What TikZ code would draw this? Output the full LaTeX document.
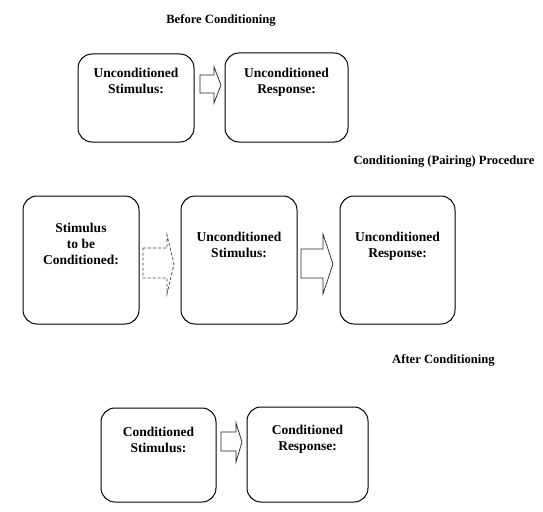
\documentclass[tikz,border=0pt]{standalone}
\usepackage{fontspec}
\setmainfont{Liberation Serif}
\usetikzlibrary{positioning}
\tikzset{
  box/.style={draw, rounded corners=14pt, line width=1pt},
  boxtext/.style={align=center, inner sep=0pt, anchor=north,
    font=\bfseries\fontsize{13.5}{16}\selectfont},
  heading/.style={inner sep=0pt, font=\bfseries\fontsize{12.6}{15}\selectfont},
  blockarrow/.style={draw=black!85, line width=0.75pt},
  blockdash/.style={draw=black!75, line width=0.75pt, dash pattern=on 3pt off 2pt}
}
\begin{document}
\begin{tikzpicture}[x=1pt, y=-1pt]
  \useasboundingbox (0,0) rectangle (543,511);

  % Before conditioning
  \node[heading] (before) at (221,20) {Before Conditioning};
  \node[box, minimum width=116pt, minimum height=88pt] (us1) at (136,98) {};
  \node[box, minimum width=123pt, minimum height=89pt] (ur1) at (286.5,97.5) {};
  \node[boxtext, below=14pt of us1.north] (us1t) {Unconditioned\\Stimulus:};
  \node[boxtext, below=15pt of ur1.north] (ur1t) {Unconditioned\\Response:};
  \draw[blockarrow] (200,75) -- (214,75) -- (214,67) -- (221,85)
    -- (214,103) -- (214,93) -- (200,93) -- cycle;

  % Pairing procedure
  \node[heading] (pairing) at (444,162) {Conditioning (Pairing) Procedure};
  \node[box, minimum width=116pt, minimum height=128pt] (ns) at (81,260) {};
  \node[box, minimum width=116pt, minimum height=128pt] (us2) at (239,260) {};
  \node[box, minimum width=115pt, minimum height=128pt] (ur2) at (397.5,260) {};
  \node[boxtext, below=27pt of ns.north] (nst) {Stimulus\\to be\\Conditioned:};
  \node[boxtext, below=36pt of us2.north] (us2t) {Unconditioned\\Stimulus:};
  \node[boxtext, below=36pt of ur2.north] (ur2t) {Unconditioned\\Response:};
  \draw[blockdash] (143,248) -- (167,248) -- (167,235) -- (174,264)
    -- (167,294) -- (167,278) -- (143,278) -- cycle;
  \draw[blockarrow] (301,249) -- (323,249) -- (323,234) -- (333,264)
    -- (323,294) -- (323,278) -- (301,278) -- cycle;

  % After conditioning
  \node[heading] (after) at (443.5,360) {After Conditioning};
  \node[box, minimum width=115pt, minimum height=94pt] (cs) at (158.5,455) {};
  \node[box, minimum width=121pt, minimum height=95pt] (cr) at (307.5,454.5) {};
  \node[boxtext, below=19pt of cs.north] (cst) {Conditioned\\Stimulus:};
  \node[boxtext, below=18pt of cr.north] (crt) {Conditioned\\Response:};
  \draw[blockarrow] (221,432) -- (236,432) -- (236,423) -- (242,442)
    -- (236,462) -- (236,451) -- (221,451) -- cycle;
\end{tikzpicture}
\end{document}
